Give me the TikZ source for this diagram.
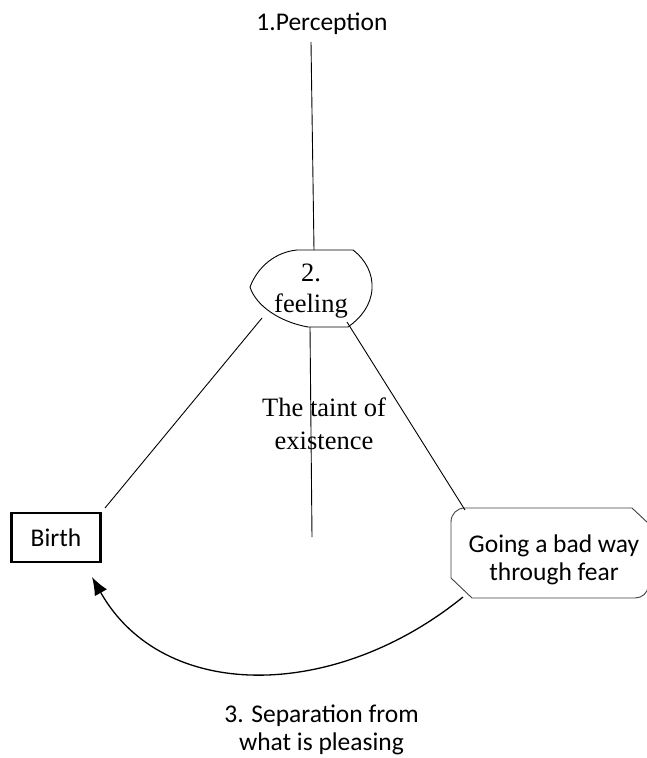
\documentclass[tikz,border=0pt]{standalone}
\usepackage{fontspec}
\setmainfont{Liberation Serif}
\newfontfamily\calib{Carlito}
\usetikzlibrary{arrows.meta}
\begin{document}
\begin{tikzpicture}[x=1pt,y=-1pt,
  sanslbl/.style={font=\calib\fontsize{25.5}{28}\selectfont, inner sep=0pt, align=center},
  seriflbl/.style={font=\fontsize{26.5}{31}\selectfont, inner sep=0pt, align=center},
  conn/.style={line width=0.9pt, draw=black},
  shapeline/.style={line width=0.9pt, draw=black}]
\useasboundingbox (0,0) rectangle (647,758);

% labels
\node[sanslbl, anchor=base] (perc) at (322,30) {1.Perception};
\node[seriflbl] (feeltxt) at (311,291.5) {2.\\feeling};
\node[seriflbl, font=\fontsize{26.5}{33}\selectfont] (taint) at (324,423.5) {The taint of\\existence};
\node[sanslbl] (going) at (554,559.5) {Going a bad way\\through fear};
\node[sanslbl] (sep) at (321.5,729.5) {3. Separation from\\what is pleasing};
\node[sanslbl, draw, line width=2.6pt, minimum width=89, minimum height=49] (birth) at (56,537.5) {Birth};

% feeling shape
\draw[shapeline] (297,250) -- (353,250)
  .. controls (366,260) and (373,274) .. (372,289)
  .. controls (371,305) and (361,318) .. (348,327)
  -- (308,327)
  .. controls (280,322) and (256,306) .. (250,287)
  .. controls (258,266) and (276,252) .. (297,250) -- cycle;

% going box shape
\draw[line width=0.9pt, draw=black!75] (465,508) -- (632,508) -- (648,523) -- (648,586)
  .. controls (648,593) and (642,598) .. (635,598)
  -- (472,598) -- (451,578) -- (451,522)
  .. controls (451,514) and (457,508) .. (465,508) -- cycle;

% connector end points
\coordinate (percfoot) at (311,42);
\coordinate (feeltop) at (314,250);
\coordinate (feelbl) at (262,318);
\coordinate (feelbot) at (310,327);
\coordinate (feelbr) at (347,322);
\coordinate (birthtr) at (105,508);
\coordinate (taintend) at (312,537);
\coordinate (goingtl) at (465,510);
\coordinate (goingbl) at (463,597);
\coordinate (birthbelow) at (92,577);

\draw[conn] (percfoot) -- (feeltop);
\draw[conn] (feelbl) -- (birthtr);
\draw[conn] (feelbot) -- (taintend);
\draw[conn] (feelbr) -- (goingtl);
\draw[line width=1.3pt, -{Latex[length=18pt,width=14pt]}] (goingbl) .. controls (335,701) and (163,703) .. (birthbelow);
\end{tikzpicture}
\end{document}
